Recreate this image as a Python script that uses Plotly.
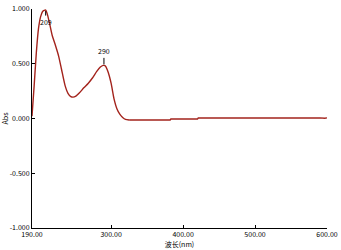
import plotly.graph_objects as go

wavelength = [190, 193, 196, 199, 202, 205, 208, 209, 211, 214, 218, 222, 227, 231, 236, 240, 244, 247, 251, 256,
              262, 268, 274, 280, 285, 289, 290, 292, 296, 300, 304, 308, 312, 316, 320, 325, 340, 360, 382, 383,
              420, 421, 450, 500, 550, 590, 597, 600]
absorbance = [0.02, 0.30, 0.60, 0.82, 0.93, 0.98, 0.99, 0.99, 0.96, 0.88, 0.76, 0.68, 0.57, 0.45, 0.30, 0.23, 0.20,
              0.195, 0.205, 0.235, 0.28, 0.32, 0.37, 0.43, 0.47, 0.485, 0.485, 0.48, 0.42, 0.32, 0.18, 0.09, 0.04,
              0.01, -0.008, -0.014, -0.014, -0.014, -0.014, -0.005, -0.005, 0.004, 0.005, 0.005, 0.005, 0.006,
              0.002, 0.006]

peak_labels = ["209", "290"]
peak_x = [209, 290]
peak_y = [0.99, 0.485]
peak_offsets = [12, -14]

x_ticks = [190, 300, 400, 500, 600]
x_tick_text = ["190.00", "300.00", "400.00", "500.00", "600.00"]
y_ticks = [1.0, 0.5, 0.0, -0.5, -1.0]
y_tick_text = ["1.000", "0.500", "0.000", "-0.500", "-1.000"]

FONT = "Noto Sans CJK SC"
LINE = "#a3231c"

split = wavelength.index(325)
fig = go.Figure()
fig.add_trace(go.Scatter(x=wavelength[:split + 1], y=absorbance[:split + 1], mode="lines",
                         line=dict(color=LINE, width=1.4, shape="spline", smoothing=0.6),
                         hoverinfo="skip", showlegend=False))
fig.add_trace(go.Scatter(x=wavelength[split:], y=absorbance[split:], mode="lines",
                         line=dict(color=LINE, width=1.4, shape="linear"),
                         hoverinfo="skip", showlegend=False))

for lab, px, py, off in zip(peak_labels, peak_x, peak_y, peak_offsets):
    fig.add_annotation(x=px, y=py, xref="x", yref="y", text=lab, showarrow=True,
                       arrowhead=0, arrowwidth=1, arrowcolor="black", ax=0, ay=off,
                       font=dict(family=FONT, size=7, color="black"), standoff=1)

axis_common = dict(ticks="inside", ticklen=3, tickcolor="black", showline=True, linecolor="black",
                   linewidth=1, showgrid=False, zeroline=False,
                   tickfont=dict(family=FONT, size=7, color="black"), ticklabeloverflow="allow")

fig.update_layout(
    width=341, height=250,
    margin=dict(l=29, r=11, t=3, b=22),
    paper_bgcolor="white", plot_bgcolor="white",
    font=dict(family=FONT, size=7, color="black"),
    xaxis=dict(range=[190, 600], tickvals=x_ticks, ticktext=x_tick_text,
               title=dict(text="波长(nm)", font=dict(size=7, color="black"), standoff=2), **axis_common),
    yaxis=dict(range=[-1, 1], tickvals=y_ticks, ticktext=y_tick_text,
               title=dict(text="Abs", font=dict(size=7, color="black"), standoff=2), **axis_common),
)

fig.write_html("out.html")
